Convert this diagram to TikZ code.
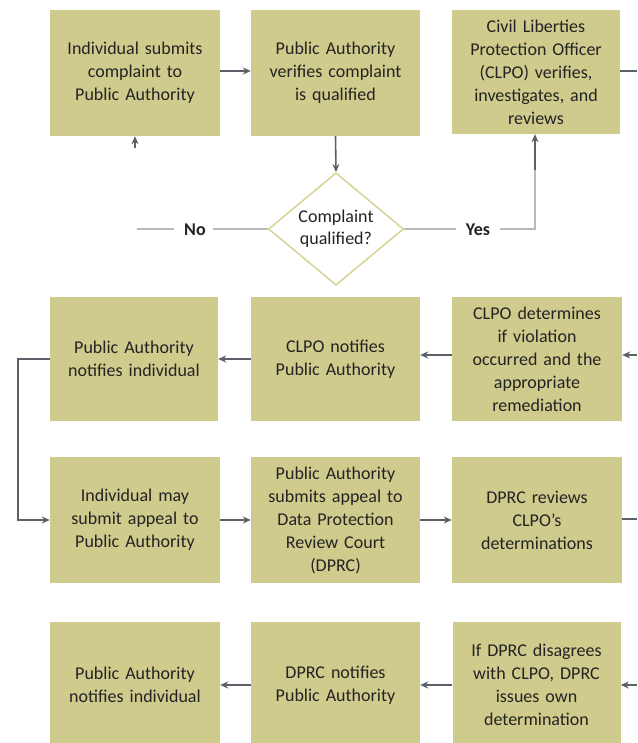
\documentclass[tikz,border=0pt]{standalone}
\usepackage{fontspec}
\setmainfont{Carlito}
\usetikzlibrary{shapes.geometric,arrows.meta}
\definecolor{boxfill}{RGB}{207,203,141}
\definecolor{arr}{RGB}{92,96,104}
\definecolor{lgray}{RGB}{185,185,185}
\definecolor{txt}{RGB}{35,35,35}
\definecolor{dborder}{RGB}{214,209,140}
\begin{document}
\begin{tikzpicture}[x=1pt,y=-1pt,
  box/.style={fill=boxfill, draw=none, minimum width=170pt, minimum height=126pt,
    align=center, text width=165pt, font=\fontsize{18}{23}\selectfont, text=txt, inner sep=0pt},
  arrow/.style={draw=arr, line width=1.6pt, -{Stealth[length=8pt,width=7pt]}},
  plain/.style={draw=arr, line width=1.6pt},
  light/.style={draw=lgray, line width=1.4pt},
  lbl/.style={font=\fontsize{18}{22}\selectfont\bfseries, text=txt, inner sep=0pt},
  decision/.style={diamond, draw=dborder, line width=1.4pt, fill=white, minimum width=135pt,
    minimum height=102pt, inner sep=0pt, align=center, text=txt, font=\fontsize{18}{22}\selectfont}]
\useasboundingbox (0,0) rectangle (637,743);
\clip (0,0) rectangle (637,743);
\fill[white] (0,0) rectangle (637,743);
% Row 1
\node[box] (b1) at (135,73) {Individual submits\\complaint to\\Public Authority};
\node[box, minimum width=169pt] (b2) at (335.5,73) {Public Authority\\verifies complaint\\is qualified};
\node[box, minimum width=168pt, minimum height=124pt] (b3) at (536,72) {Civil Liberties\\Protection Officer\\(CLPO) verifies,\\investigates, and\\reviews};
\node[decision] (d) at (336,229) {Complaint\\qualified?};
\node[lbl] (no) at (195,230) {No};
\node[lbl] (yes) at (478,230) {Yes};
\coordinate (noend) at (137,229);
\coordinate (upstart) at (135,148);
\coordinate (r1) at (637,71);
% Row 2
\node[box, minimum width=168pt, minimum height=124pt] (b4) at (134,359) {Public Authority\\notifies individual};
\node[box, minimum width=169pt, minimum height=124pt] (b5) at (335.5,359) {CLPO notifies\\Public Authority};
\node[box, minimum height=124pt] (b6) at (537,359) {CLPO determines\\if violation\\occurred and the\\appropriate\\remediation};
\coordinate (r2) at (637,355);
\coordinate (lft) at (18,359);
% Row 3
\node[box] (b7) at (135,520) {Individual may\\submit appeal to\\Public Authority};
\node[box, minimum width=169pt] (b8) at (335.5,520) {Public Authority\\submits appeal to\\Data Protection\\Review Court\\(DPRC)};
\node[box] (b9) at (537,520) {DPRC reviews\\CLPO's\\determinations};
\coordinate (r3) at (637,519);
% Row 4
\node[box] (b10) at (135,685) {Public Authority\\notifies individual};
\node[box, minimum width=169pt] (b11) at (335.5,685) {DPRC notifies\\Public Authority};
\node[box, minimum width=168pt] (b12) at (536.5,685) {If DPRC disagrees\\with CLPO, DPRC\\issues own\\determination};
\coordinate (r4) at (637,685);
% Connectors row 1
\draw[arrow] (b1.east |- 0,71) -- (b2.west |- 0,71);
\draw[arrow] (b2.south) -- (d.north);
\draw[light] (d.west) -- ([xshift=7pt]no.east |- d.west);
\draw[light] ([xshift=-10pt]no.west |- d.west) -- (noend);
\draw[arrow] (upstart) -- (b1.south);
\draw[light] (d.east) -- ([xshift=-10pt]yes.west |- d.east);
\draw[light] ([xshift=10pt]yes.east |- d.east) -| ([xshift=-1pt]b3.south |- 0,170);
\draw[arrow, line width=1.4pt] ([xshift=-1pt]b3.south |- 0,170) -- ([xshift=-1pt]b3.south);
\draw[plain] (b3.east |- r1) -- (r1);
% Row 2
\draw[arrow] (r2) -- (r2 -| b6.east);
\draw[arrow] (b6.west |- r2) -- (b5.east |- r2);
\draw[arrow] (b5.west) -- (b4.east);
\draw[arrow] (b4.west) -- (lft) |- (b7.west);
% Row 3
\draw[arrow] (b7.east) -- (b8.west);
\draw[arrow] (b8.east) -- (b9.west);
\draw[plain] (b9.east |- r3) -- (r3);
% Row 4
\draw[arrow] (r4) -- (b12.east);
\draw[arrow] (b12.west) -- (b11.east);
\draw[arrow] (b11.west) -- (b10.east);
\end{tikzpicture}
\end{document}
